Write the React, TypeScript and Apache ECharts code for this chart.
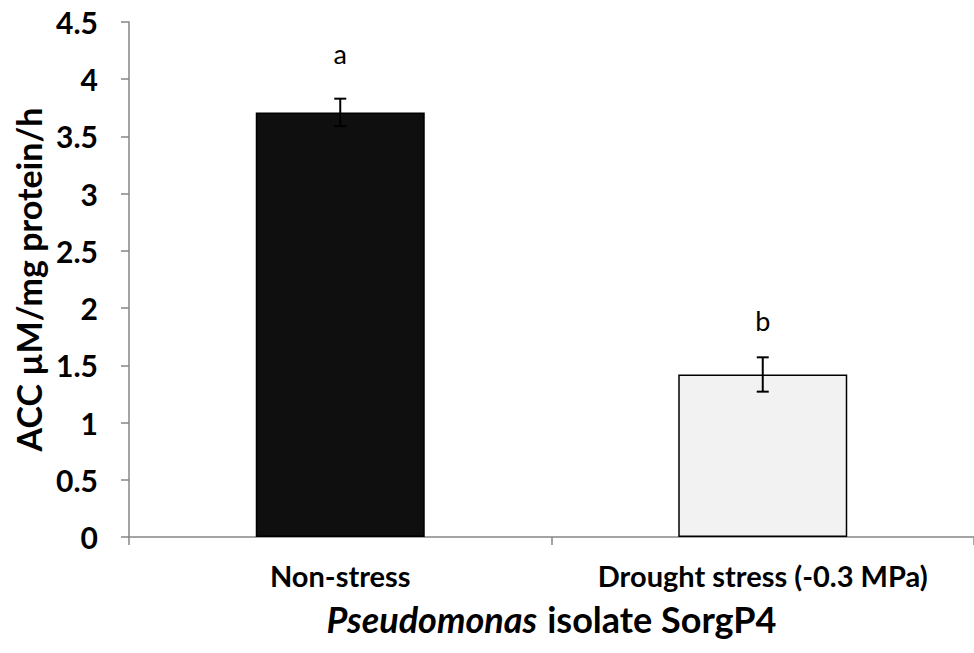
import React, { useEffect, useRef } from "react";
import * as echarts from "echarts";

const categories = ["Non-stress", "Drought stress (-0.3 MPa)"];
const means = [3.71, 1.42];
const errors = [0.12, 0.15];
const letters = ["a", "b"];
const yTicks = { min: 0, max: 4.5, interval: 0.5 };

const FONT = "Lato, 'Open Sans', sans-serif";

export default function App() {
  const ref = useRef<HTMLDivElement>(null);
  useEffect(() => {
    if (!ref.current) return;
    const chart = echarts.init(ref.current, undefined, { renderer: "svg" });
    const barColors = ["#0f0f0f", "#f2f2f2"];
    const letterGap = [45, 37];
    chart.setOption({
      animation: false,
      grid: { left: 129, top: 22, width: 854, height: 515, containLabel: false },
      xAxis: {
        type: "category",
        data: categories,
        name: "{i|Pseudomonas}{b|isolate SorgP4}",
        nameLocation: "middle",
        nameGap: 64,
        nameTextStyle: {
          rich: {
            i: { fontFamily: FONT, fontSize: 36, fontWeight: "bold", fontStyle: "italic", color: "#000", padding: [0, 10, 0, 0] },
            b: { fontFamily: FONT, fontSize: 36, fontWeight: "bold", color: "#000" },
          },
        },
        axisLine: { lineStyle: { color: "#868686", width: 1.5 } },
        axisTick: { show: true, length: 8, lineStyle: { color: "#868686", width: 1.5 }, alignWithLabel: false },
        axisLabel: { interval: 0, fontFamily: FONT, fontSize: 29, fontWeight: "bold", color: "#000", margin: 24 },
        splitLine: { show: false },
      },
      yAxis: {
        type: "value",
        min: yTicks.min,
        max: yTicks.max,
        interval: yTicks.interval,
        name: "ACC µM/mg protein/h",
        nameLocation: "middle",
        nameGap: 84,
        nameRotate: 90,
        nameTextStyle: { fontFamily: FONT, fontSize: 34, fontWeight: "bold", color: "#000" },
        axisLine: { show: true, lineStyle: { color: "#868686", width: 1.5 } },
        axisTick: { show: true, length: 8, lineStyle: { color: "#868686", width: 1.5 } },
        axisLabel: { fontFamily: FONT, fontSize: 30, fontWeight: "bold", color: "#000", margin: 31 },
        splitLine: { show: false },
      },
      series: [
        {
          type: "bar",
          barWidth: "40%",
          data: means.map((v, i) => ({
            value: v,
            itemStyle: { color: barColors[i], borderColor: "#000", borderWidth: 1.5 },
          })),
          z: 2,
        },
        {
          type: "custom",
          z: 5,
          data: means.map((v, i) => [i, v - errors[i], v + errors[i]]),
          renderItem: (params: any, api: any) => {
            const i = api.value(0);
            const lo = api.coord([i, api.value(1)]);
            const hi = api.coord([i, api.value(2)]);
            const hw = 6;
            const style = { stroke: "#000", lineWidth: 2 };
            return {
              type: "group",
              children: [
                { type: "line", shape: { x1: hi[0], y1: hi[1], x2: lo[0], y2: lo[1] }, style },
                { type: "line", shape: { x1: hi[0] - hw, y1: hi[1], x2: hi[0] + hw, y2: hi[1] }, style },
                { type: "line", shape: { x1: lo[0] - hw, y1: lo[1], x2: lo[0] + hw, y2: lo[1] }, style },
              ],
            };
          },
        },
        {
          type: "custom",
          z: 6,
          data: means.map((v, i) => [i, v + errors[i]]),
          renderItem: (params: any, api: any) => {
            const i = api.value(0);
            const p = api.coord([i, api.value(1)]);
            return {
              type: "text",
              style: {
                text: letters[i],
                x: p[0],
                y: p[1] - letterGap[i],
                align: "center",
                verticalAlign: "middle",
                fontFamily: FONT,
                fontSize: 27,
                fill: "#000",
              },
            };
          },
        },
      ],
    });
    return () => chart.dispose();
  }, []);
  return <div ref={ref} style={{ position: "absolute", left: 0, top: 0, width: 974, height: 653 }} />;
}
